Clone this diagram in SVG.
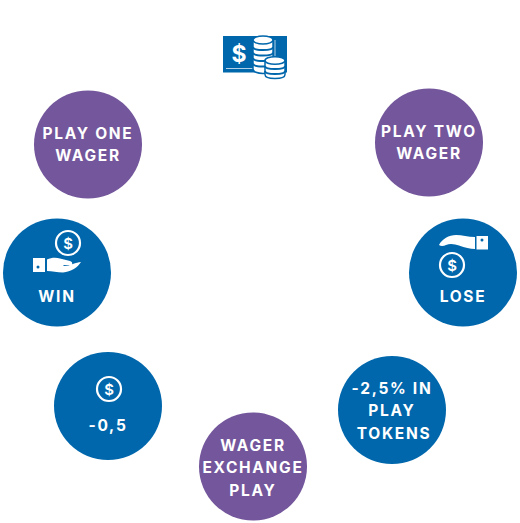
<svg xmlns="http://www.w3.org/2000/svg" width="520" height="523" viewBox="0 0 520 523">
<style>
.b{fill:#0067ac}.p{fill:#73569b}
text{font-family:Inter,"Liberation Sans",sans-serif;font-weight:700;font-size:15.5px;fill:#fff;text-anchor:middle;letter-spacing:1.7px}
.w{fill:#fff}.o{fill:none;stroke:#fff;stroke-width:2.2}
.d{font-size:15px;letter-spacing:0}
.s{fill:#fff;stroke:#0067ac;stroke-width:1.5}
.l{fill:none;stroke:#0067ac;stroke-width:2}
</style>
<defs>
<g id="coin"><circle r="12" class="o"/><text y="5.500" class="d" style="font-weight:600">$</text></g>
</defs>
<rect width="520" height="523" fill="#fff"/>
<g id="connectors"/>
<g id="icon-money">
<rect x="223" y="36" width="64" height="36.500" fill="#0067ac"/>
<path d="M226 68.500h27M275 40v17" fill="none" stroke="#fff" stroke-opacity=".7" stroke-width="1"/>
<text x="239" y="62" style="font-size:23px;letter-spacing:0">$</text>
<path d="M253 40v29c0 2.800 4.500 4.500 10 4.500s10-1.700 10-4.500V40z" class="s"/>
<ellipse cx="263" cy="40" rx="10" ry="4" class="s"/>
<path d="M253 47c0 4 20 4 20 0M253 52.500c0 4 20 4 20 0M253 58c0 4 20 4 20 0M253 63.500c0 4 20 4 20 0" class="l"/>
<path d="M265 60.500v14c0 2.500 4.500 4 10 4s10-1.500 10-4v-14z" class="s"/>
<ellipse cx="275" cy="60.500" rx="10" ry="3.800" class="s"/>
<path d="M265 66c0 4 20 4 20 0M265 71c0 4 20 4 20 0" class="l"/>
</g>
<g id="play-one"><circle cx="88" cy="144.500" r="54" class="p"/><text x="88" y="138.500">PLAY ONE</text><text x="88" y="160.500">WAGER</text></g>
<g id="play-two"><circle cx="429" cy="142.500" r="54" class="p"/><text x="429" y="136.500">PLAY TWO</text><text x="429" y="158.500">WAGER</text></g>
<g id="win"><circle cx="57" cy="272.500" r="54" class="b"/>
<use href="#coin" x="68" y="243"/>
<path d="M33 258h12v14H33z" class="w"/><circle cx="38" cy="267" r="1.500" fill="#0067ac"/>
<path d="M47 259.500C51 257.500 56 257 60 258.500L70 261C73 262 73 265 70 265L63 265L64 266C70 266 76 262 81 262C78 267 71 272 63 272.500C57 272.500 52 271 47 271Z" class="w"/>
<text x="57" y="302">WIN</text></g>
<g id="lose"><circle cx="463" cy="272.500" r="54" class="b"/>
<use href="#coin" x="452" y="265"/>
<path d="M476.500 236h11.500v13.500h-11.500z" class="w"/><circle cx="482" cy="240" r="1.500" fill="#0067ac"/>
<path d="M475 237C468 237 462 235 456 235C449 235 442 239 439 245C441 246.500 444 246 446 245C450 243 455 244 459 245.500C465 247.500 470 249 475 249Z" class="w"/>
<text x="463" y="302">LOSE</text></g>
<g id="minus-half"><circle cx="108" cy="406" r="54" class="b"/><use href="#coin" x="109" y="389"/><text x="108" y="431">-0,5</text></g>
<g id="tokens"><circle cx="392" cy="410" r="54" class="b"/><text x="392" y="394">-2,5% IN</text><text x="392" y="416">PLAY</text><text x="394" y="439">TOKENS</text></g>
<g id="exchange"><circle cx="253" cy="466.500" r="54" class="p"/><text x="253" y="451">WAGER</text><text x="253" y="473">EXCHANGE</text><text x="253" y="496">PLAY</text></g>
</svg>
